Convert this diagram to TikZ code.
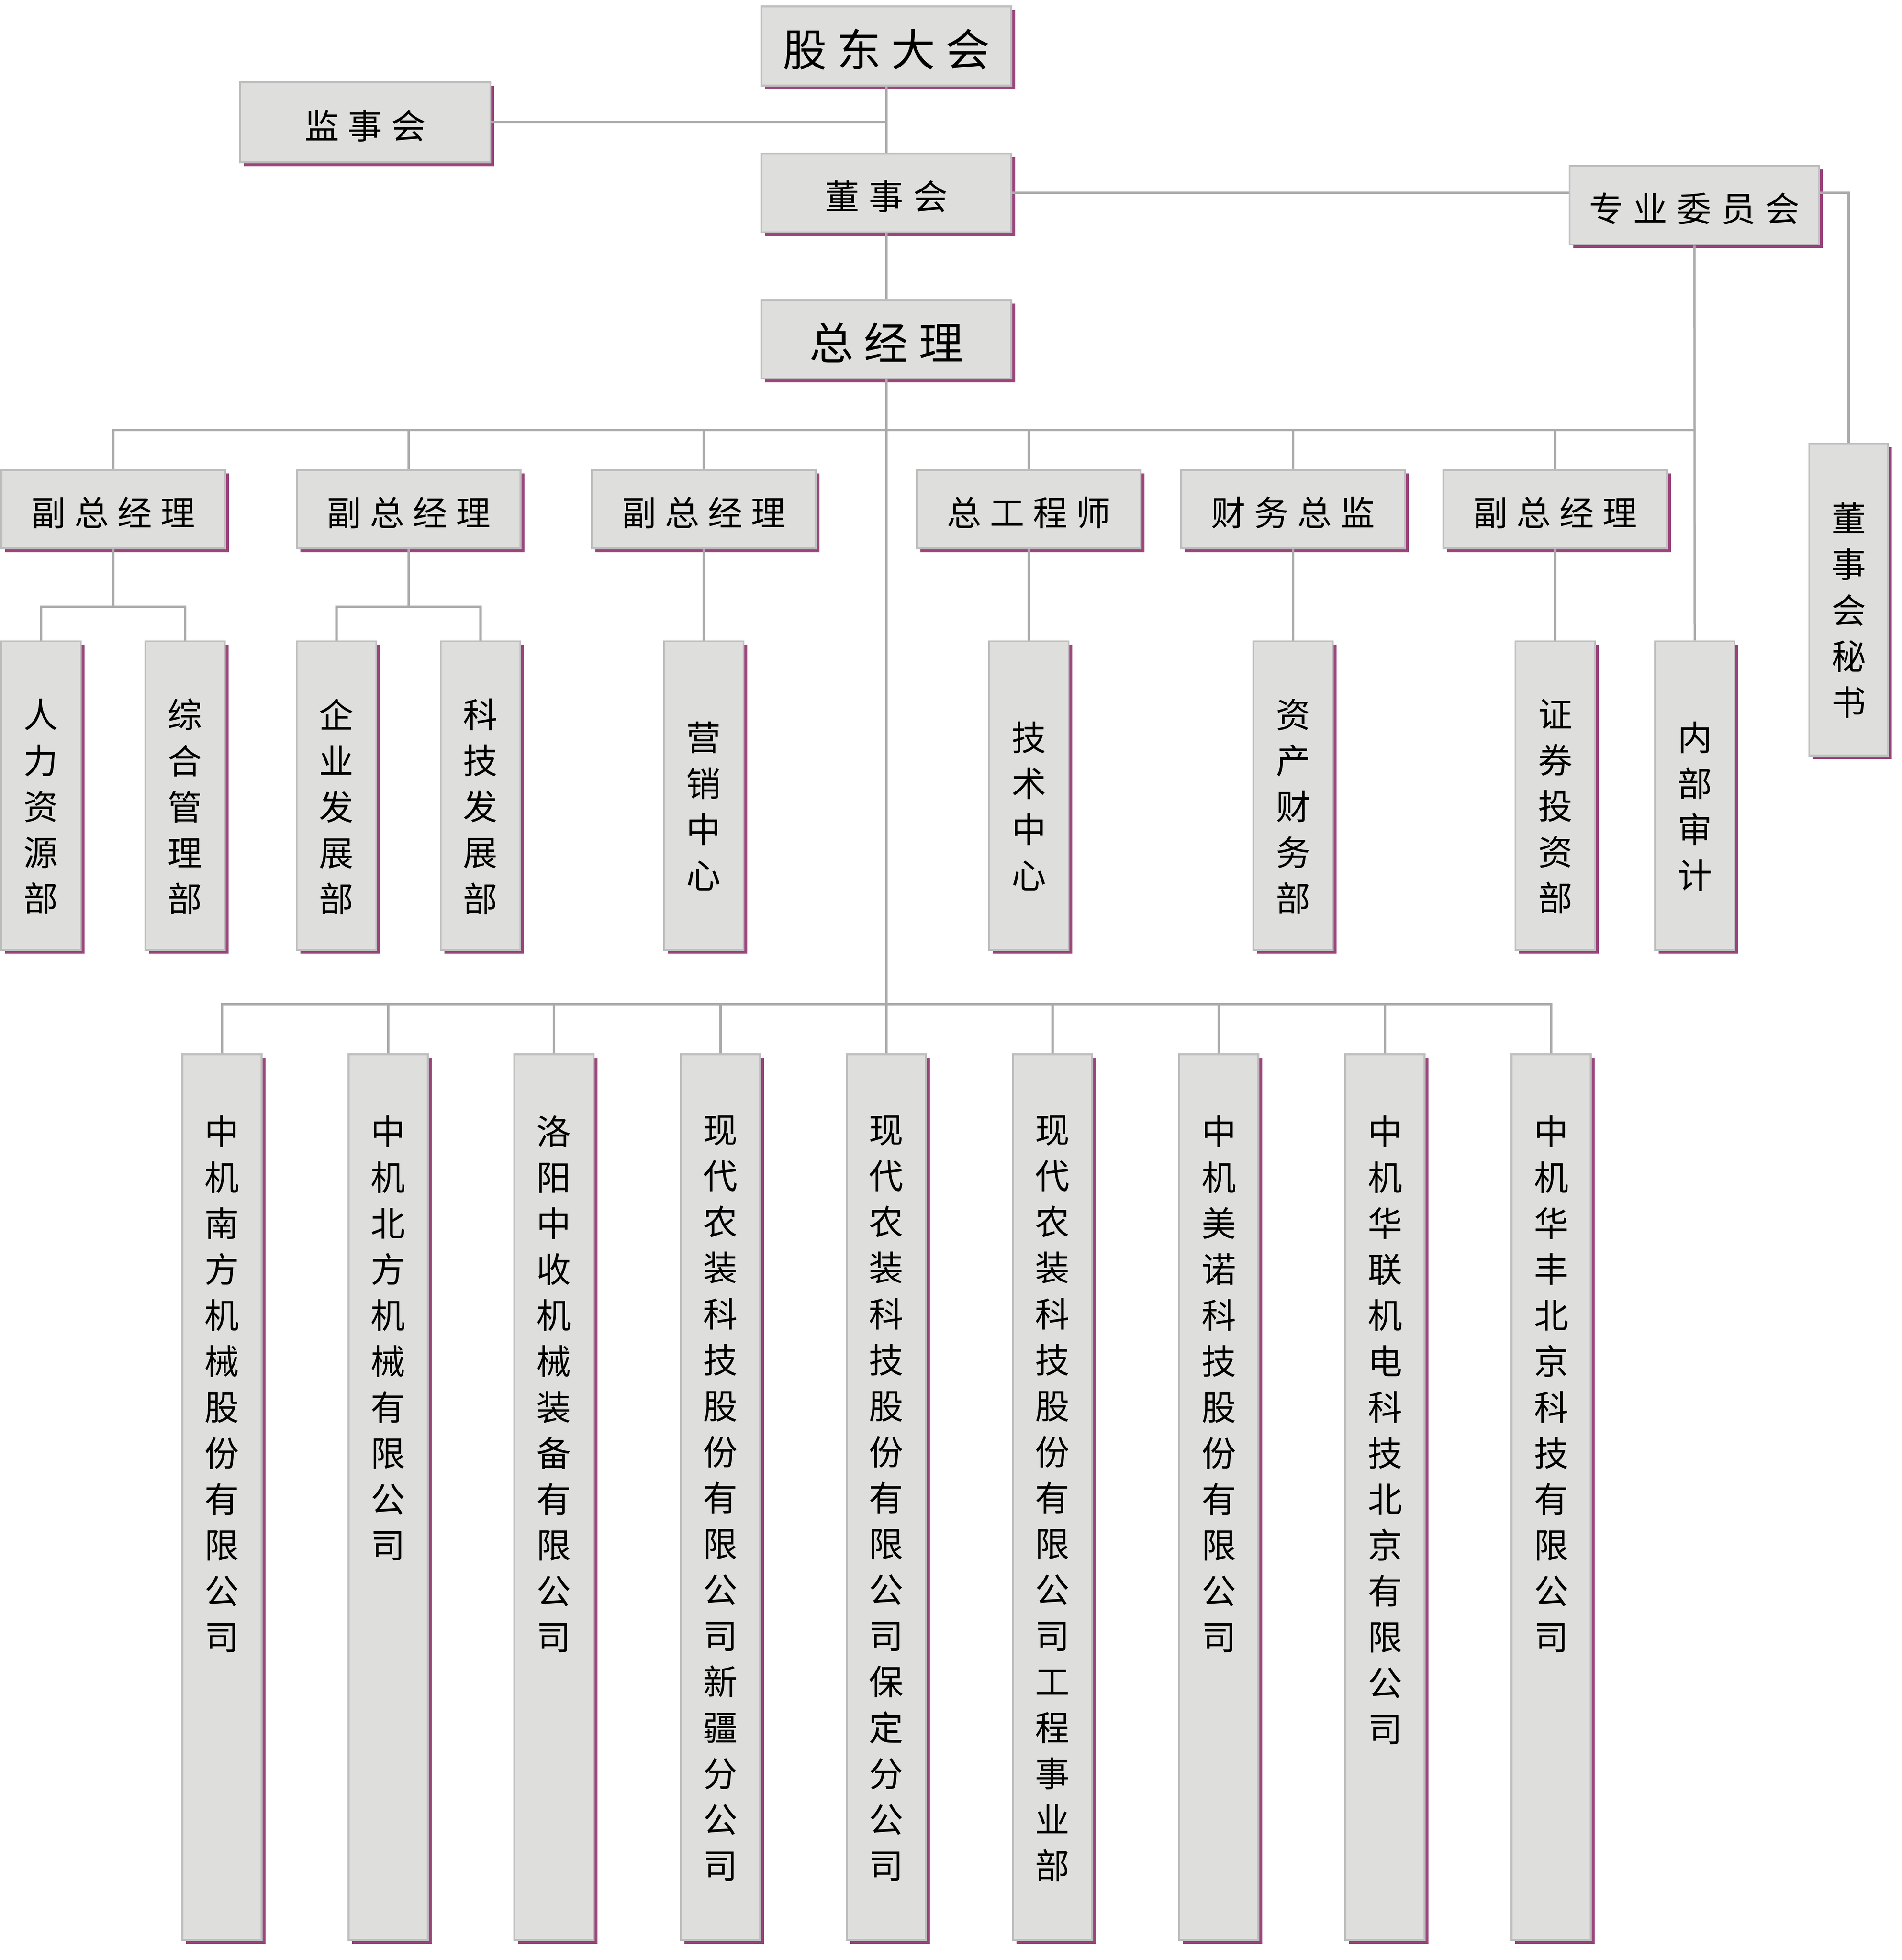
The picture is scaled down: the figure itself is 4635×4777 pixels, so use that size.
\documentclass[tikz,border=0pt]{standalone}
\usepackage{fontspec}
\setmainfont{Noto Sans CJK SC}
\usetikzlibrary{shadows}
\definecolor{boxfill}{RGB}{222,222,221}
\definecolor{boxedge}{RGB}{190,190,190}
\definecolor{shadec}{RGB}{153,68,122}
\definecolor{linec}{RGB}{170,170,170}
\makeatletter
\newcommand\hsp[2]{\@tfor\ch:=#2\do{\hbox to #1{\hss\ch\hss}}}
\newcommand\vchars[1]{\baselineskip=1.12cm\lineskiplimit=-100cm\lineskip=0pt
  \@tfor\ch:=#1\do{\hbox to 1em{\vrule width0pt height0.8em depth0.2em\hss\ch\hss}}}
\makeatother
\newcommand\deptstk[1]{\vbox{\vskip0.76em\vchars{#1}}}
\newcommand\costk[1]{\vbox to 21.58cm{\vskip1.49cm\vchars{#1}\vss}}
\tikzset{
  orgbox/.style={draw=boxedge, line width=0.045cm, fill=boxfill, inner sep=0pt,
    drop shadow={shadow xshift=0.09cm, shadow yshift=-0.09cm, fill=shadec, opacity=1, draw=none}},
  normfont/.style={font=\fontsize{23.9pt}{24pt}\selectfont},
  bigfont/.style={font=\fontsize{30.7pt}{31pt}\selectfont},
  wideblk/.style={orgbox, normfont, minimum width=6.09cm, minimum height=1.92cm,
    text height=0.82cm, text depth=0.02cm},
  bigblk/.style={wideblk, bigfont, text height=1.0cm, text depth=0.02cm},
  midblk/.style={orgbox, normfont, minimum width=5.45cm, minimum height=1.91cm,
    text height=0.82cm, text depth=0.02cm},
  deptblk/.style={orgbox, normfont, minimum width=1.94cm, minimum height=7.52cm},
  coblk/.style={orgbox, normfont, minimum width=1.93cm, minimum height=21.58cm},
  conn/.style={draw=linec, line width=0.055cm},
}
\begin{document}
\begin{tikzpicture}[x=0.01cm,y=-0.01cm]
\useasboundingbox (0,0) rectangle (4635,4777);
\coordinate (busY) at (0,1048);
\coordinate (subY) at (0,1479);
\coordinate (cbus) at (0,2448);
% top level
\node[bigblk, minimum height=1.93cm] (gd) at (2160,112) {\hsp{1.32cm}{股东大会}};
\node[wideblk, minimum width=6.10cm, minimum height=1.95cm] (jsh) at (890,298) {\hsp{1.05cm}{监事会}};
\node[wideblk] (dsh) at (2160,470) {\hsp{1.07cm}{董事会}};
\node[wideblk, minimum width=6.08cm] (zy) at (4129,500) {\hsp{1.07cm}{专业委员会}};
\node[bigblk] (zjl) at (2160,827) {\hsp{1.33cm}{总经理}};
% level 2
\node[midblk] (la) at (276,1241) {\hsp{1.05cm}{副总经理}};
\node[midblk] (lb) at (996,1241) {\hsp{1.05cm}{副总经理}};
\node[midblk] (lc) at (1715,1241) {\hsp{1.05cm}{副总经理}};
\node[midblk] (ld) at (2507,1241) {\hsp{1.05cm}{总工程师}};
\node[midblk] (le) at (3151,1241) {\hsp{1.05cm}{财务总监}};
\node[midblk] (lf) at (3790,1241) {\hsp{1.05cm}{副总经理}};
% level 3
\node[deptblk] (da) at (100,1939) {\deptstk{人力资源部}};
\node[deptblk] (db) at (451,1939) {\deptstk{综合管理部}};
\node[deptblk] (dc) at (820,1939) {\deptstk{企业发展部}};
\node[deptblk] (dd) at (1171,1939) {\deptstk{科技发展部}};
\node[deptblk] (de) at (1715,1939) {\deptstk{营销中心}};
\node[deptblk] (df) at (2507,1939) {\deptstk{技术中心}};
\node[deptblk] (dg) at (3151,1939) {\deptstk{资产财务部}};
\node[deptblk] (dh) at (3790,1939) {\deptstk{证券投资部}};
\node[deptblk] (di) at (4130,1939) {\deptstk{内部审计}};
\node[deptblk, minimum width=1.92cm, minimum height=7.60cm] (ms) at (4505,1461) {\deptstk{董事会秘书}};
% companies
\node[coblk] (ca) at (541,3649) {\costk{中机南方机械股份有限公司}};
\node[coblk] (cb) at (946,3649) {\costk{中机北方机械有限公司}};
\node[coblk] (cc) at (1350,3649) {\costk{洛阳中收机械装备有限公司}};
\node[coblk] (cd) at (1756,3649) {\costk{现代农装科技股份有限公司新疆分公司}};
\node[coblk] (ce) at (2160,3649) {\costk{现代农装科技股份有限公司保定分公司}};
\node[coblk] (cf) at (2565,3649) {\costk{现代农装科技股份有限公司工程事业部}};
\node[coblk] (cg) at (2970,3649) {\costk{中机美诺科技股份有限公司}};
\node[coblk] (ch) at (3375,3649) {\costk{中机华联机电科技北京有限公司}};
\node[coblk] (ci) at (3780,3649) {\costk{中机华丰北京科技有限公司}};
% connectors
\draw[conn] (gd.south) -- (dsh.north);
\draw[conn] (jsh.east) -- (jsh.east -| gd.south);
\draw[conn] (dsh.south) -- (zjl.north);
\draw[conn] (dsh.east) -- (dsh.east -| zy.west);
\draw[conn] (dsh.east -| zy.east) -| (ms.north);
\draw[conn] (zy.south) -- (di.north);
\draw[conn] (zjl.south) -- (zjl.south |- cbus);
\draw[conn] (la.north) |- (zy.south |- busY);
\foreach \n in {lb,lc,ld,le,lf} \draw[conn] (\n.north) -- (\n.north |- busY);
\draw[conn] (la.south) -- (la.south |- subY);
\draw[conn] (da.north) |- (db.north |- subY) -- (db.north);
\draw[conn] (lb.south) -- (lb.south |- subY);
\draw[conn] (dc.north) |- (dd.north |- subY) -- (dd.north);
\draw[conn] (lc.south) -- (de.north);
\draw[conn] (ld.south) -- (df.north);
\draw[conn] (le.south) -- (dg.north);
\draw[conn] (lf.south) -- (dh.north);
\draw[conn] (ca.north) |- (ci.north |- cbus) -- (ci.north);
\foreach \n in {cb,cc,cd,ce,cf,cg,ch} \draw[conn] (\n.north) -- (\n.north |- cbus);
\end{tikzpicture}
\end{document}
